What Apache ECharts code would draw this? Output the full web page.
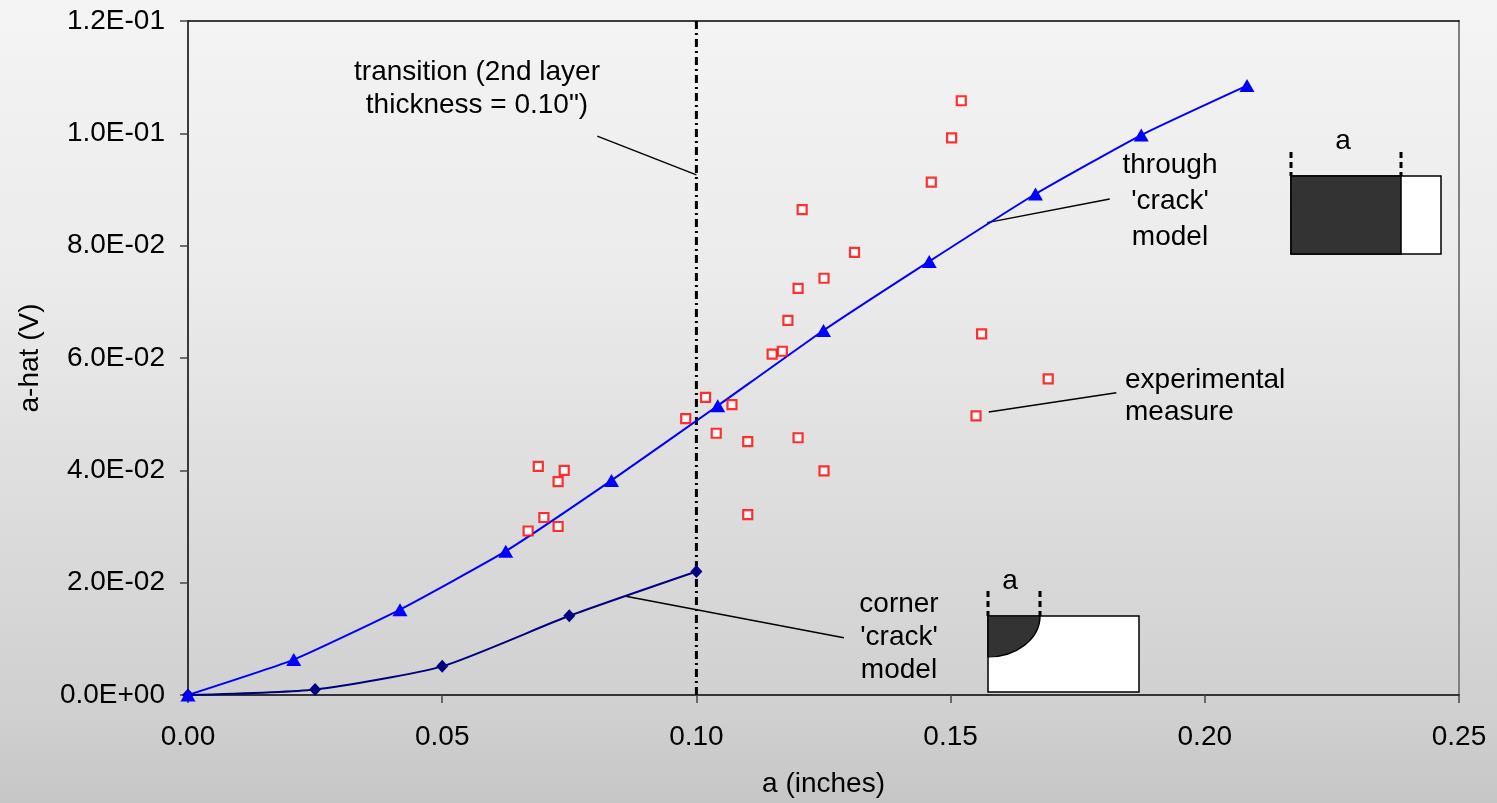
<!DOCTYPE html>
<html>
<head>
<meta charset="utf-8">
<script src="https://cdn.jsdelivr.net/npm/echarts@6/dist/echarts.min.js"></script>
<style>
    html, body { margin: 0; padding: 0; }
    #chart { width: 1497px; height: 803px; }
</style>
</head>
<body>
<div id="chart"></div>
<script>
const xTickLabels = ['0.00', '0.05', '0.10', '0.15', '0.20', '0.25'];
const yTickLabels = ['0.0E+00', '2.0E-02', '4.0E-02', '6.0E-02', '8.0E-02', '1.0E-01', '1.2E-01'];

// through 'crack' model
const throughA = [0, 0.0208, 0.0417, 0.0625, 0.0833, 0.1042, 0.125, 0.1458, 0.1667, 0.1875, 0.2083];
const throughHat = [0, 0.0063, 0.0152, 0.0256, 0.0382, 0.0515, 0.0649, 0.0772, 0.0892, 0.0997, 0.1085];

// corner 'crack' model
const cornerA = [0, 0.025, 0.05, 0.075, 0.10];
const cornerHat = [0, 0.0010, 0.0051, 0.0141, 0.0220];

// experimental measure
const expA = [0.0689, 0.0740, 0.0728, 0.0700, 0.0669, 0.0728, 0.0979, 0.1018, 0.1070, 0.1039,
    0.1101, 0.1101, 0.1149, 0.1169, 0.1200, 0.1251, 0.1208, 0.1311, 0.1251, 0.1200,
    0.1180, 0.1521, 0.1502, 0.1462, 0.1561, 0.1692, 0.1550];
const expHat = [0.0407, 0.0400, 0.0380, 0.0316, 0.0292, 0.0300, 0.0492, 0.0530, 0.0517, 0.0466,
    0.0451, 0.0321, 0.0607, 0.0612, 0.0458, 0.0399, 0.0864, 0.0788, 0.0742, 0.0724,
    0.0667, 0.1058, 0.0992, 0.0913, 0.0643, 0.0563, 0.0497];

// transition line and leader lines (data coords)
const transitionLine = [[0.10, 0], [0.10, 0.12]];
const leaders = [
    [[0.0805, 0.0995], [0.10, 0.0926]],
    [[0.1572, 0.0841], [0.1813, 0.0883]],
    [[0.1575, 0.0504], [0.1826, 0.0538]],
    [[0.0861, 0.0176], [0.1290, 0.0102]]
];

const FONT = '"Liberation Sans", Arial, sans-serif';

function zip(xs, ys) {
    return xs.map((x, i) => [x, ys[i]]);
}

function label(text, x, y, align, lineHeight) {
    return {
        type: 'text', z: 100,
        style: {
            text: text, x: x, y: y, fill: '#000',
            font: '28px ' + FONT,
            textAlign: align, textVerticalAlign: 'middle',
            lineHeight: lineHeight
        }
    };
}

function dashLine(x, y1, y2) {
    return {
        type: 'line', z: 100,
        shape: {x1: x, y1: y1, x2: x, y2: y2},
        style: {stroke: '#000', lineWidth: 3, lineDash: [6, 4]}
    };
}

window.onload = () => {
    const chart = echarts.init(document.getElementById('chart'));

    const leaderSeries = leaders.map(seg => ({
        type: 'line', data: seg, symbol: 'none', silent: true, z: 1,
        lineStyle: {color: '#000', width: 1.5}
    }));

    const option = {
        animation: false,
        backgroundColor: new echarts.graphic.LinearGradient(0, 0, 0, 1, [
            {offset: 0, color: '#f4f4f4'},
            {offset: 0.35, color: '#ebebeb'},
            {offset: 0.62, color: '#dddddd'},
            {offset: 0.9, color: '#cfcfcf'},
            {offset: 1, color: '#c6c6c6'}
        ]),
        textStyle: {fontFamily: FONT},
        grid: {left: 188, right: 38, top: 21, bottom: 104},
        xAxis: [{
            type: 'value', min: 0, max: 0.25, interval: 0.05,
            name: 'a (inches)', nameLocation: 'middle', nameGap: 75,
            nameTextStyle: {fontSize: 28, color: '#000', fontFamily: FONT},
            axisLine: {lineStyle: {color: '#000', width: 1.5}},
            axisTick: {length: 8, lineStyle: {color: '#444', width: 1.5}},
            axisLabel: {fontSize: 28, color: '#000', margin: 28, fontFamily: FONT,
                formatter: (v, i) => xTickLabels[i]},
            splitLine: {show: false}
        }, {
            type: 'value', position: 'top', min: 0, max: 0.25,
            axisLine: {show: true, onZero: false, lineStyle: {color: '#000', width: 1.5}},
            axisTick: {show: false}, axisLabel: {show: false}, splitLine: {show: false}
        }],
        yAxis: [{
            type: 'value', min: 0, max: 0.12, interval: 0.02,
            name: 'a-hat (V)', nameLocation: 'middle', nameGap: 144,
            nameTextStyle: {fontSize: 28, color: '#000', fontFamily: FONT},
            axisLine: {show: true, lineStyle: {color: '#000', width: 1.5}},
            axisTick: {length: 8, lineStyle: {color: '#444', width: 1.5}},
            axisLabel: {fontSize: 28, color: '#000', margin: 23, fontFamily: FONT,
                formatter: (v, i) => yTickLabels[i]},
            splitLine: {show: false}
        }, {
            type: 'value', position: 'right', min: 0, max: 0.12,
            axisLine: {show: true, onZero: false, lineStyle: {color: '#808080', width: 2}},
            axisTick: {show: false}, axisLabel: {show: false}, splitLine: {show: false}
        }],
        series: [
            {
                type: 'line', data: transitionLine, symbol: 'none', silent: true, z: 1,
                lineStyle: {color: '#000', width: 3, type: [8, 4, 2, 4]}
            },
            ...leaderSeries,
            {
                name: "corner 'crack' model", type: 'line', data: zip(cornerA, cornerHat),
                smooth: 0.2, symbol: 'diamond', symbolSize: [12, 13], z: 3,
                lineStyle: {color: '#000080', width: 2},
                itemStyle: {color: '#000080'}
            },
            {
                name: "through 'crack' model", type: 'line', data: zip(throughA, throughHat),
                smooth: 0.15, symbol: 'triangle', symbolSize: [15, 13], z: 4,
                lineStyle: {color: '#0000ff', width: 2},
                itemStyle: {color: '#0000ff'}
            },
            {
                name: 'experimental measure', type: 'scatter', data: zip(expA, expHat),
                symbol: 'rect', symbolSize: 9, z: 5,
                itemStyle: {color: '#ffffff', borderColor: '#ff0000', borderWidth: 2.2}
            }
        ],
        graphic: [
            label('transition (2nd layer\nthickness = 0.10")', 477, 89, 'center', 33),
            label("through\n'crack'\nmodel", 1170, 201, 'center', 36),
            label('experimental\nmeasure', 1125, 396, 'left', 32),
            label("corner\n'crack'\nmodel", 899, 637, 'center', 33),

            // through crack inset
            {type: 'rect', z: 90, shape: {x: 1291, y: 176, width: 150, height: 78},
                style: {fill: '#ffffff', stroke: '#000', lineWidth: 1.5}},
            {type: 'rect', z: 91, shape: {x: 1291, y: 176, width: 110, height: 78},
                style: {fill: '#333333', stroke: '#000', lineWidth: 1.5}},
            dashLine(1291, 152, 176),
            dashLine(1401, 152, 176),
            label('a', 1343, 141, 'center', 28),

            // corner crack inset
            {type: 'rect', z: 90, shape: {x: 988, y: 616, width: 151, height: 76},
                style: {fill: '#ffffff', stroke: '#000', lineWidth: 1.5}},
            {type: 'sector', z: 91, x: 988, y: 616, scaleY: 41 / 52,
                shape: {cx: 0, cy: 0, r: 52, r0: 0, startAngle: 0, endAngle: Math.PI / 2, clockwise: true},
                style: {fill: '#333333', stroke: '#000', lineWidth: 1.5}},
            dashLine(988, 591, 616),
            dashLine(1040, 591, 616),
            label('a', 1010, 581, 'center', 28)
        ]
    };

    chart.setOption(option);
};
</script>
</body>
</html>
